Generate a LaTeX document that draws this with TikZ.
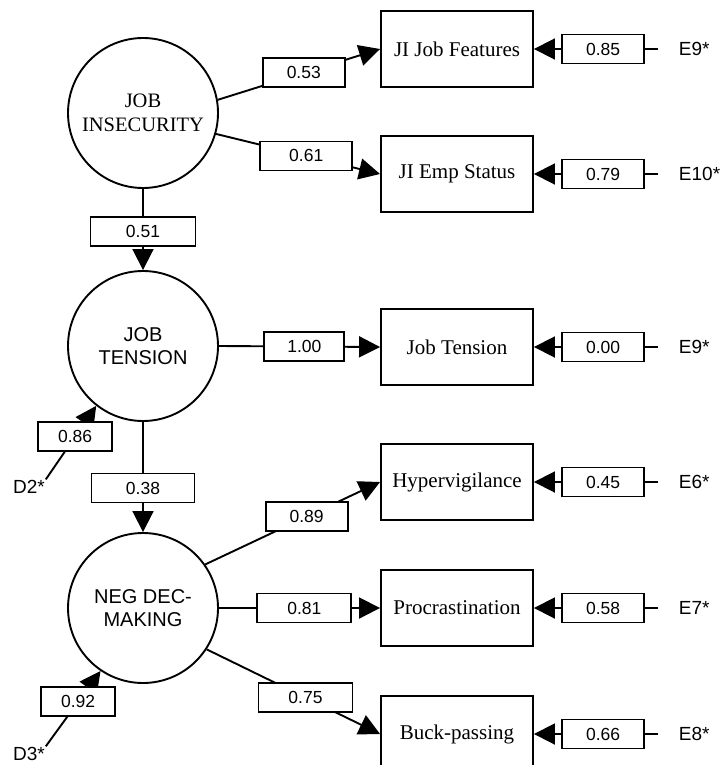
\documentclass[tikz,border=0pt]{standalone}
\usepackage{fontspec}
\setmainfont{Liberation Serif}
\setsansfont{Liberation Sans}
\usetikzlibrary{arrows.meta}

\begin{document}
\begin{tikzpicture}[
	x=1pt, y=-1pt,
	line width=1.9pt,
	latent/.style={circle,draw,minimum size=150pt,inner sep=0pt,align=center,font=\sffamily\fontsize{20}{23.5}\selectfont},
	observed/.style={rectangle,draw,minimum width=152pt,minimum height=76pt,font=\fontsize{21}{25}\selectfont},
	coef/.style={rectangle,draw,fill=white,minimum width=82pt,minimum height=29pt,inner sep=0pt,font=\sffamily\fontsize{17.5}{20}\selectfont},
	resid/.style={inner sep=0pt,font=\sffamily\fontsize{19}{22}\selectfont},
	load/.style={-{Triangle[length=21pt,width=21pt]}},
	]
\useasboundingbox (0,0) rectangle (720,765);
% latent factors
\node [latent,font=\fontsize{20.5}{24}\selectfont] (ji) at (143,113) {JOB\\INSECURITY};
\node [latent] (jt) at (143,346) {JOB\\TENSION};
\node [latent] (nd) at (143,608) {NEG DEC-\\MAKING};
% indicators
\node [observed] (jf) at (457,49) {JI Job Features};
\node [observed] (es) at (457,174) {JI Emp Status};
\node [observed] (jm) at (457,347) {Job Tension};
\node [observed] (hv) at (457,482) {Hypervigilance};
\node [observed] (pr) at (457,608) {Procrastination};
\node [observed] (bp) at (457,734) {Buck-passing};
% residuals
\node [resid,anchor=west] (e9a) at (678,49) {E9*};
\node [resid,anchor=west] (e10) at (678,174) {E10*};
\node [resid,anchor=west] (e9b) at (678,347) {E9*};
\node [resid,anchor=west] (e6) at (678,482) {E6*};
\node [resid,anchor=west] (e7) at (678,608) {E7*};
\node [resid,anchor=west] (e8) at (678,734) {E8*};
\node [resid] (d2) at (29,487) {D2*};
\node [resid] (d3) at (29,754) {D3*};

\draw[load] (ji.10) -- node[coef,pos=0.53] {0.53} (jf.west);
\draw[load] (ji.-16) -- node[coef,pos=0.55,minimum width=92pt] {0.61} (es.west);
\draw[load] (ji) -- node[coef,pos=0.53,minimum width=105pt] {0.51} (jt);
\draw[load] (jt.east) -- node[coef,pos=0.53,minimum width=80pt] {1.00} (jm.west);
\draw[load] (jt) -- node[coef,pos=0.6,minimum width=103pt] {0.38} (nd);
\draw[load] (nd.35) -- node[coef,pos=0.58] {0.89} (hv.west);
\draw[load] (nd.east) -- node[coef,pos=0.53,minimum width=94pt] {0.81} (pr.west);
\draw[load] (nd.-33) -- node[coef,pos=0.57,minimum width=94pt] {0.75} (bp.west);
\draw[load] (d2.north east) -- node[coef,pos=0.58,minimum width=74pt] {0.86} (jt.232);
\draw[load] (d3.north east) -- node[coef,pos=0.59,minimum width=74pt] {0.92} (nd.236);

\draw[load,shorten <=20pt] (e9a) -- node[coef,pos=0.52] {0.85} (jf);
\draw[load,shorten <=20pt] (e10) -- node[coef,pos=0.52] {0.79} (es);
\draw[load,shorten <=20pt] (e9b) -- node[coef,pos=0.52] {0.00} (jm);
\draw[load,shorten <=20pt] (e6) -- node[coef,pos=0.52] {0.45} (hv);
\draw[load,shorten <=20pt] (e7) -- node[coef,pos=0.52] {0.58} (pr);
\draw[load,shorten <=20pt] (e8) -- node[coef,pos=0.52] {0.66} (bp);
\end{tikzpicture}
\end{document}
